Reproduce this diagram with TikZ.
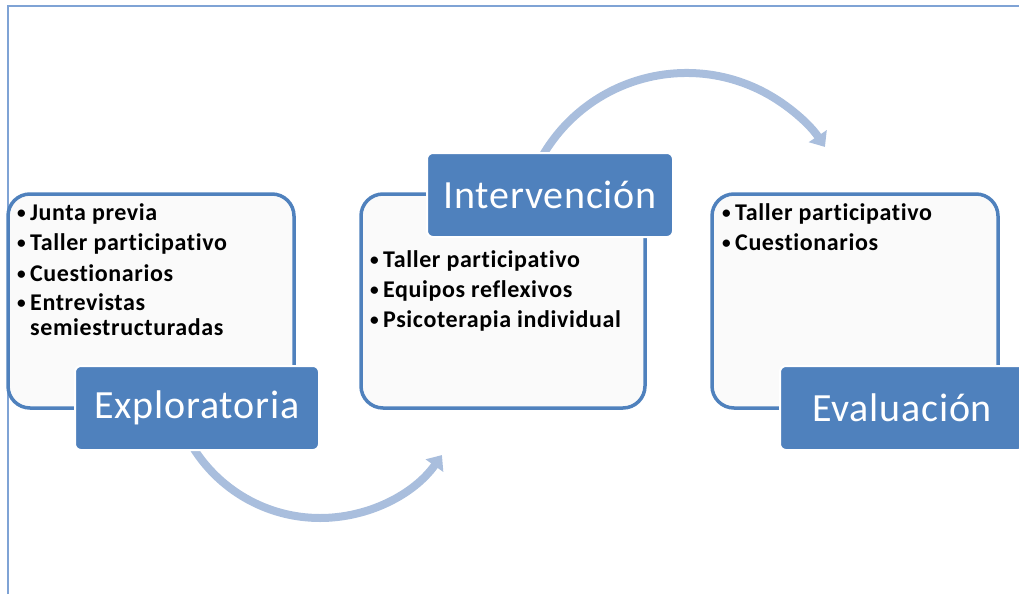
\documentclass[tikz,border=0pt]{standalone}
\usepackage{fontspec}
\setmainfont{Carlito}[Ligatures={NoCommon}]
\usetikzlibrary{arrows.meta}
\definecolor{accent}{HTML}{4F81BD}
\definecolor{arccol}{HTML}{A9BEDD}
\definecolor{framecol}{HTML}{7FA3D5}
\newcommand\bul{\makebox[13pt][l]{\raisebox{1.5pt}{\scalebox{0.72}{•}}}}
\begin{document}
\begin{tikzpicture}[x=1pt,y=-1pt,
  panel/.style={draw=accent, line width=3.5pt, rounded corners=22pt, fill=black!2, inner sep=0pt},
  stage/.style={fill=accent, draw=white, line width=2pt, rounded corners=6pt, text=white,
    font=\fontsize{40}{46}\selectfont\addfontfeature{LetterSpace=2}, inner sep=0pt,
    minimum height=84pt},
  item/.style={anchor=base west, inner sep=0pt, font=\fontsize{24}{28}\selectfont\bfseries\addfontfeature{LetterSpace=2.5}},
  flow/.style={draw=arccol, line width=8pt, -{Triangle[width=21pt,length=13pt]}}]
\useasboundingbox (0,0) rectangle (1019,594);
\clip (0,0) rectangle (1019,594);
% frame
\draw[framecol, line width=1.5pt] (8,594) -- (8,6) -- (1019,6);
% flow arrows
\coordinate (c1) at (320,368.4);
\coordinate (c2) at (686.5,239.6);
\draw[flow] (c1) ++(150:149.6) arc[start angle=150, end angle=35.4, radius=149.6];
\draw[flow] (c2) ++(210:166.6) arc[start angle=210, end angle=326.2, radius=166.6];
% panels
\node[panel, minimum width=286pt, minimum height=214pt] (b1) at (151,301) {};
\node[panel, minimum width=284pt, minimum height=214pt] (b2) at (503,301) {};
\node[panel, minimum width=286pt, minimum height=214pt] (b3) at (855,301) {};
% stage labels
\node[stage, minimum width=244pt] (l1) at (197,408) {Exploratoria};
\node[stage, minimum width=246pt] (l2) at (550,195) {Intervención};
\node[stage, minimum width=244pt] (l3) at (902,408) {Evaluación};
% items
\node[item] (a1) at (17,220) {\bul Junta previa};
\node[item] (a2) at (17,250) {\bul Taller participativo};
\node[item] (a3) at (17,281) {\bul Cuestionarios};
\node[item] (a4) at (17,310) {\bul Entrevistas};
\node[item] (a5) at (17,335) {\phantom{\bul}semiestructuradas};
\node[item] (m1) at (370,267) {\bul Taller participativo};
\node[item] (m2) at (370,297) {\bul Equipos reflexivos};
\node[item] (m3) at (370,327) {\bul Psicoterapia individual};
\node[item] (e1) at (722,220) {\bul Taller participativo};
\node[item] (e2) at (722,250) {\bul Cuestionarios};
\end{tikzpicture}
\end{document}
